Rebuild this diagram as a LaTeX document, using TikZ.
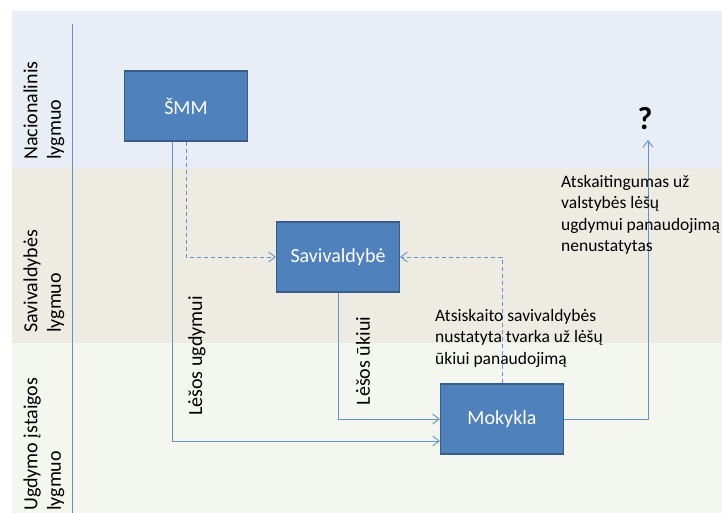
\documentclass[tikz,border=0pt]{standalone}
\usepackage{fontspec}
\setmainfont{Carlito}
\usetikzlibrary{arrows.meta}
\definecolor{boxfill}{RGB}{79,129,189}
\definecolor{boxline}{RGB}{56,93,138}
\definecolor{flowline}{RGB}{100,145,205}
\definecolor{bandnat}{RGB}{233,237,245}
\definecolor{bandsav}{RGB}{238,236,226}
\definecolor{bandugd}{RGB}{244,246,240}
\begin{document}
\begin{tikzpicture}[x=1pt,y=-1pt,
    main node/.style={rectangle,draw=boxline,fill=boxfill,line width=1.3pt,minimum width=123pt,minimum height=70pt,text=white,font=\fontsize{20}{24}\selectfont},
    level label/.style={rotate=90,anchor=west,align=left,inner sep=0pt,font=\fontsize{20}{23.5}\selectfont},
    note/.style={anchor=north west,align=left,inner sep=0pt,font=\fontsize{17.5}{21.5}\selectfont},
    flow/.style={draw=flowline,line width=0.9pt,-{Straight Barb[length=6.5pt,width=10pt]}},
    back flow/.style={flow,dash pattern=on 4pt off 3pt}]
    \useasboundingbox (0,0) rectangle (722,513);
    % level bands
    \fill[bandnat] (12,11) rectangle (722,168);
    \fill[bandsav] (12,168) rectangle (722,343);
    \fill[bandugd] (12,343) rectangle (722,513);
    \draw[flowline,line width=0.9pt] (72,24) -- (72,513);

    \node[level label] at (44,160) (nat) {Nacionalinis\\lygmuo};
    \node[level label] at (44,333) (savl) {Savivaldybės\\lygmuo};
    \node[level label] at (44,511) (ugdl) {Ugdymo įstaigos\\lygmuo};

    \node[main node] at (186,106) (smm) {ŠMM};
    \node[main node] at (338,257) (sav) {Savivaldybė};
    \node[main node] at (502,419) (mok) {Mokykla};
    \coordinate (q) at (648,140);
    \node[font=\bfseries\fontsize{32}{32}\selectfont] at (645,119) (qm) {?};

    \path[flow] ([xshift=-14pt]smm.south) |- ([yshift=-22pt]mok.west);
    \path[back flow] (smm.south) |- (sav.west);
    \path[flow] (sav.south) |- (mok.west);
    \path[back flow] (mok.north) |- (sav.east);
    \path[flow] (mok.east) -| (q);

    \node[rotate=90,font=\fontsize{20}{24}\selectfont] at (197,356) (lu) {Lėšos ugdymui};
    \node[rotate=90,font=\fontsize{20}{24}\selectfont] at (363,361) (lk) {Lėšos ūkiui};
    \node[note] at (561,175) (n1) {Atskaitingumas už\\valstybės lėšų\\ugdymui panaudojimą\\nenustatytas};
    \node[note] at (435,309) (n2) {Atsiskaito savivaldybės\\nustatyta tvarka už lėšų\\ūkiui panaudojimą};
\end{tikzpicture}
\end{document}
